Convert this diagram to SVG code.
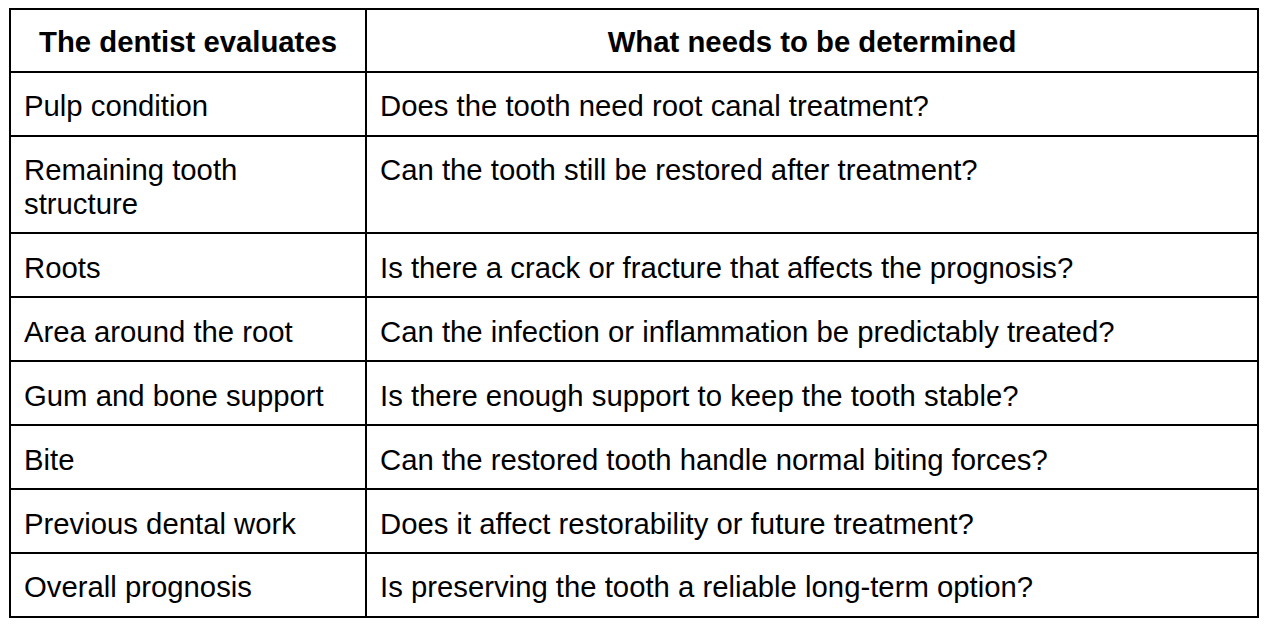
<svg xmlns="http://www.w3.org/2000/svg" width="1268" height="628" viewBox="0 0 1268 628">
<style>
text{font-family:"Liberation Sans",Arial,sans-serif;font-size:29.3px;fill:#000}
.h{font-weight:bold;text-anchor:middle}
.l{stroke:#000;stroke-width:2;fill:none}
</style>
<rect width="1268" height="628" fill="#fff"/>
<g id="grid">
<rect class="l" x="10" y="9" width="1248" height="608"/>
<line class="l" x1="366" y1="9" x2="366" y2="617"/>
<line class="l" x1="10" y1="72" x2="1258" y2="72"/>
<line class="l" x1="10" y1="136" x2="1258" y2="136"/>
<line class="l" x1="10" y1="233" x2="1258" y2="233"/>
<line class="l" x1="10" y1="297" x2="1258" y2="297"/>
<line class="l" x1="10" y1="361" x2="1258" y2="361"/>
<line class="l" x1="10" y1="425" x2="1258" y2="425"/>
<line class="l" x1="10" y1="489" x2="1258" y2="489"/>
<line class="l" x1="10" y1="553" x2="1258" y2="553"/>
</g>
<g id="header">
<text class="h" x="188" y="52">The dentist evaluates</text>
<text class="h" x="812" y="52">What needs to be determined</text>
</g>
<g id="col1">
<text x="24" y="116">Pulp condition</text>
<text x="24" y="180">Remaining tooth</text>
<text x="24" y="214">structure</text>
<text x="24" y="278">Roots</text>
<text x="24" y="342">Area around the root</text>
<text x="24" y="406">Gum and bone support</text>
<text x="24" y="470">Bite</text>
<text x="24" y="534">Previous dental work</text>
<text x="24" y="597">Overall prognosis</text>
</g>
<g id="col2">
<text x="380" y="116">Does the tooth need root canal treatment?</text>
<text x="380" y="180">Can the tooth still be restored after treatment?</text>
<text x="380" y="278">Is there a crack or fracture that affects the prognosis?</text>
<text x="380" y="342">Can the infection or inflammation be predictably treated?</text>
<text x="380" y="406">Is there enough support to keep the tooth stable?</text>
<text x="380" y="470">Can the restored tooth handle normal biting forces?</text>
<text x="380" y="534">Does it affect restorability or future treatment?</text>
<text x="380" y="597">Is preserving the tooth a reliable long-term option?</text>
</g>
</svg>
